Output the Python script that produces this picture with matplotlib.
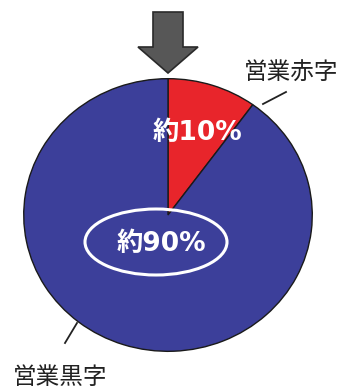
import matplotlib
matplotlib.use("Agg")
import matplotlib.pyplot as plt
from matplotlib.patches import Ellipse, FancyArrow

plt.rcParams['font.family'] = ['Noto Sans CJK JP', 'DejaVu Sans']

# data
shares = [10, 90]
slice_colors = ['#E8252B', '#3C3F9A']
share_texts = ['約10%', '約90%']
names = ['営業赤字', '営業黒字']

W, H = 343, 389
fig = plt.figure(figsize=(W / 100, H / 100), dpi=100)

# pie sits in its own axes (slightly squashed vertically, like the source)
left, right, top, bottom = 23, 313, 78, 352
pax = fig.add_axes([left / W, 1 - bottom / H, (right - left) / W, (bottom - top) / H])
pax.pie(shares, colors=slice_colors, startangle=90, counterclock=False,
        radius=1.0, wedgeprops=dict(edgecolor='#1a1a1a', linewidth=1.0))
pax.set_aspect('auto')
pax.set_xlim(-1.005, 1.005)
pax.set_ylim(-1.005, 1.005)
pax.axis('off')

# overlay in pixel coordinates for annotations
ax = fig.add_axes([0, 0, 1, 1])
ax.set_xlim(0, W)
ax.set_ylim(H, 0)
ax.axis('off')

# arrow at the top
ax.add_patch(FancyArrow(168, 12, 0, 61, width=30, head_width=60, head_length=26,
                        length_includes_head=True, facecolor='#575757',
                        edgecolor='#2a2a2a', linewidth=1.2))

# percentage labels (wide latin digits, CJK fallback for 約)
pct_font = ['DejaVu Sans', 'Noto Sans CJK JP']
ax.text(197, 133, share_texts[0], color='white', fontsize=19, fontweight='bold',
        family=pct_font, ha='center', va='center')
ax.text(161, 244, share_texts[1], color='white', fontsize=19, fontweight='bold',
        family=pct_font, ha='center', va='center')
ax.add_patch(Ellipse((156, 242), 142, 66, fill=False, edgecolor='white', linewidth=2.2))

# category labels with leader lines
ax.text(291, 73, names[0], fontsize=17, color='#222222', ha='center', va='center')
ax.plot([263, 286], [104, 92], color='#222222', linewidth=1.3)
ax.text(60, 378, names[1], fontsize=17, color='#222222', ha='center', va='center')
ax.plot([77, 65], [323, 343], color='#222222', linewidth=1.3)

fig.savefig('out.png', dpi=100)
